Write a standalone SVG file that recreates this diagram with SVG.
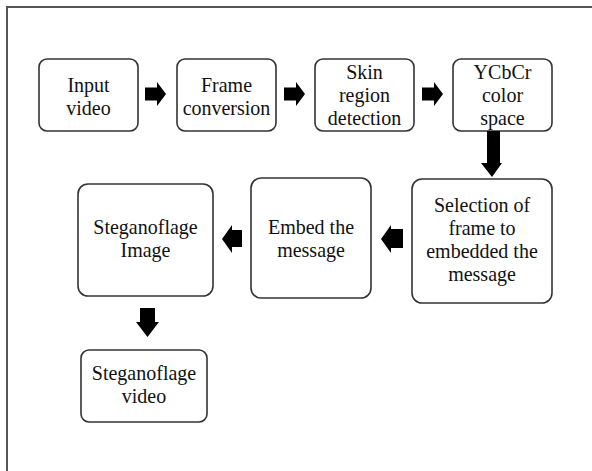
<svg xmlns="http://www.w3.org/2000/svg" xmlns:xlink="http://www.w3.org/1999/xlink" width="592" height="471" viewBox="0 0 592 471">
<style>
.box{fill:#fff;stroke:#333;stroke-width:1.6}
.t{font-family:"Liberation Serif","Times New Roman",serif;font-size:20px;fill:#111;text-anchor:middle}
.arr{fill:#000}
</style>
<defs>
<path id="ra" d="M0,-6.5 H12 V-12 L21,0 L12,12 V6.5 H0 Z"/>
</defs>
<rect x="0" y="0" width="592" height="471" fill="#fff"/>
<path d="M7,471 V7 H592" fill="none" stroke="#555" stroke-width="2"/>

<g id="input-video">
<rect class="box" x="39" y="59" width="99" height="72" rx="8"/>
<text class="t" transform="translate(88.5,92) scale(1,1.03)">Input</text>
<text class="t" transform="translate(88.5,115) scale(1,1.03)">video</text>
</g>
<g id="frame-conversion">
<rect class="box" x="177" y="59" width="99" height="72" rx="8"/>
<text class="t" transform="translate(226.5,92) scale(1,1.03)">Frame</text>
<text class="t" transform="translate(226.5,115) scale(1,1.03)">conversion</text>
</g>
<g id="skin-region">
<rect class="box" x="315" y="59" width="99" height="72" rx="8"/>
<text class="t" transform="translate(364.5,79) scale(1,1.03)">Skin</text>
<text class="t" transform="translate(364.5,102) scale(1,1.03)">region</text>
<text class="t" transform="translate(364.5,125) scale(1,1.03)">detection</text>
</g>
<g id="ycbcr">
<rect class="box" x="453" y="59" width="99" height="72" rx="8"/>
<text class="t" transform="translate(502.5,79) scale(1,1.03)">YCbCr</text>
<text class="t" transform="translate(502.5,102) scale(1,1.03)">color</text>
<text class="t" transform="translate(502.5,125) scale(1,1.03)">space</text>
</g>
<g id="selection">
<rect class="box" x="412" y="179" width="140" height="124" rx="10"/>
<text class="t" transform="translate(482,211.5) scale(1,1.03)">Selection of</text>
<text class="t" transform="translate(482,234.5) scale(1,1.03)">frame to</text>
<text class="t" transform="translate(482,257.5) scale(1,1.03)">embedded the</text>
<text class="t" transform="translate(482,280.5) scale(1,1.03)">message</text>
</g>
<g id="embed">
<rect class="box" x="251" y="178" width="120" height="120" rx="10"/>
<text class="t" transform="translate(311,234) scale(1,1.03)">Embed the</text>
<text class="t" transform="translate(311,257) scale(1,1.03)">message</text>
</g>
<g id="stego-image">
<rect class="box" x="78" y="184" width="135" height="112" rx="10"/>
<text class="t" transform="translate(145.5,234) scale(1,1.03)">Steganoflage</text>
<text class="t" transform="translate(145.5,257) scale(1,1.03)">Image</text>
</g>
<g id="stego-video">
<rect class="box" x="81" y="350" width="126" height="72" rx="8"/>
<text class="t" transform="translate(144,380) scale(1,1.03)">Steganoflage</text>
<text class="t" transform="translate(144,403) scale(1,1.03)">video</text>
</g>

<g id="connectors" class="arr">
<use xlink:href="#ra" transform="translate(145,94)"/>
<use xlink:href="#ra" transform="translate(284,94)"/>
<use xlink:href="#ra" transform="translate(422,94)"/>
<path d="M487,131 H500 V163 H502 L492,177 L481,163 H487 Z"/>
<path d="M403,229 H391 V225 L381,239 L391,253 V248 H403 Z"/>
<path d="M242,230 H232 V225 L222,239 L232,253 V247 H242 Z"/>
<path d="M140,308 H155 V322 H159 L147.5,337 L136,322 H140 Z"/>
</g>
</svg>
